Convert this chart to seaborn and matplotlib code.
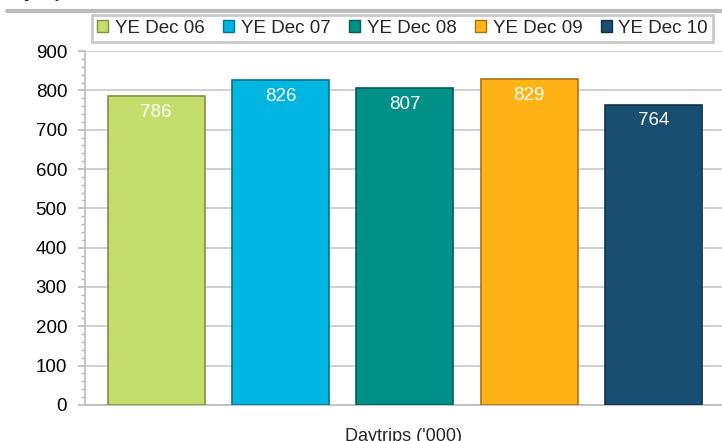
import matplotlib
matplotlib.use("Agg")
import matplotlib.pyplot as plt
import matplotlib.colors as mcolors
import seaborn as sns
import pandas as pd

periods = ["YE Dec 06", "YE Dec 07", "YE Dec 08", "YE Dec 09", "YE Dec 10"]
daytrips = [786, 826, 807, 829, 764]
bar_colors = ["#C5DD6B", "#00B5E0", "#009088", "#FFB316", "#174E71"]

sns.set_theme(style="white")
plt.rcParams["font.family"] = ["Liberation Sans", "DejaVu Sans"]

df = pd.DataFrame({"period": periods, "value": daytrips})

fig = plt.figure(figsize=(7.22, 4.41), dpi=100)
ax = fig.add_axes([0.118, 0.082, 0.882, 0.802])

sns.barplot(data=df, x="period", y="value", hue="period", palette=bar_colors,
            saturation=1, dodge=False, width=0.78, legend=False, ax=ax, zorder=3)

# darker rim to mimic the bevelled bars
for patch, c in zip(ax.patches, bar_colors):
    dark = [v * 0.65 for v in mcolors.to_rgb(c)]
    patch.set_edgecolor(dark)
    patch.set_linewidth(1.2)

for i, v in enumerate(daytrips):
    ax.text(i, v - 20, str(v), ha="center", va="top", color="white",
            fontsize=13.5, zorder=4)

ax.set_ylim(0, 900)
ax.set_xlim(-0.57, 4.55)
ax.set_yticks(range(0, 901, 100))
ax.set_yticks(range(0, 901, 20), minor=True)
ax.tick_params(axis="y", which="major", labelsize=13.5, length=5, color="#BBBBBB",
               left=True, labelcolor="black", pad=8)
ax.tick_params(axis="y", which="minor", length=3, color="#BBBBBB", left=True)
ax.set_xticks([])
ax.set_xlabel("Daytrips ('000)", fontsize=13, labelpad=17)
ax.set_ylabel("")
ax.yaxis.grid(True, which="major", color="#C8C8C8", linewidth=1.2, zorder=0)
for s in ["top", "right"]:
    ax.spines[s].set_visible(False)
for s in ["left", "bottom"]:
    ax.spines[s].set_color("#BBBBBB")
    ax.spines[s].set_linewidth(1.2)

handles = [plt.Rectangle((0, 0), 1, 1, facecolor=c,
                         edgecolor=[v * 0.65 for v in mcolors.to_rgb(c)])
           for c in bar_colors]
leg = fig.legend(handles, periods, loc="center", ncol=5, mode="expand",
                 bbox_to_anchor=(0.115, 0.905, 0.885, 0.061), fontsize=13.5,
                 handlelength=0.6, handleheight=0.6, handletextpad=0.35,
                 columnspacing=0.6, borderpad=0.25, frameon=True, fancybox=False)
leg.get_frame().set_edgecolor("#BBBBBB")
leg.get_frame().set_linewidth(2)

# cut-off title strip at the very top
fig.add_artist(plt.Line2D([0.01, 1.0], [0.975, 0.975], color="#BBBBBB",
                          linewidth=3, transform=fig.transFigure))
fig.text(0.0, 1.006, "Daytrips", fontsize=14, fontweight="bold", va="baseline")

fig.savefig("out.png", dpi=100)
